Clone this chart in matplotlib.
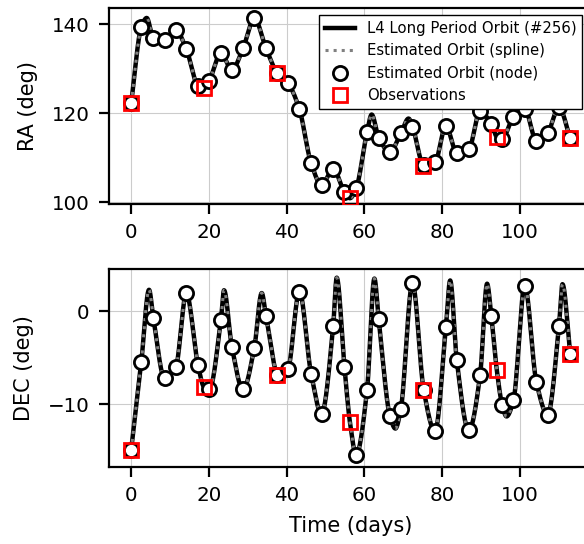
import numpy as np
import matplotlib
matplotlib.use('Agg')
from matplotlib import pyplot as plt

# estimated orbit nodes (days) and the sky coordinates at each node
node_t = [0.0, 2.6, 5.7, 8.6, 11.5, 14.2, 17.2, 20.1, 23.1, 25.9,
          28.8, 31.7, 34.7, 37.6, 40.4, 43.3, 46.3, 49.0, 52.0, 54.9,
          57.9, 60.7, 63.7, 66.6, 69.4, 72.4, 75.3, 78.2, 81.0, 83.8,
          86.9, 89.8, 92.7, 95.5, 98.4, 101.3, 104.3, 107.2, 110.1, 113.0]
node_ra = [122.3, 139.3, 137.0, 136.5, 138.6, 134.4, 126.1, 127.3, 133.5, 129.7,
           134.6, 141.3, 134.6, 129.0, 126.7, 120.9, 108.8, 103.9, 107.4, 102.3,
           103.1, 115.7, 114.5, 111.3, 115.5, 117.0, 108.3, 109.0, 117.1, 111.1,
           111.9, 120.4, 117.5, 114.3, 119.2, 120.9, 113.8, 115.6, 121.3, 114.4]
node_dec = [-14.9, -5.5, -0.7, -7.2, -6.0, 1.9, -5.8, -8.4, -0.9, -3.8,
            -8.4, -3.9, -0.5, -6.9, -6.25, 2.1, -6.7, -11.0, -1.55, -6.0,
            -15.4, -8.5, -0.8, -11.25, -10.5, 3.0, -8.5, -12.9, -1.7, -5.25,
            -12.8, -6.9, -0.55, -10.1, -9.55, 2.7, -7.65, -11.1, -1.6, -4.55]

# observations
obs_t = [0.0, 18.7, 37.5, 56.3, 75.2, 94.1, 113.0]
obs_ra = [122.2, 125.6, 129.1, 100.9, 108.2, 114.7, 114.4]
obs_dec = [-14.9, -8.1, -6.8, -11.9, -8.45, -6.3, -4.55]

# turning points of the reference orbit that fall between nodes
peak_ra_t = [4.0, 61.9, 71.4]
peak_ra = [141.4, 119.7, 118.8]
peak_dec_t = [4.6, 23.9, 33.6, 38.5, 52.9, 62.6, 68.0, 82.1, 91.6, 96.6, 111.0]
peak_dec = [2.3, 2.25, 1.95, -7.4, 3.6, 3.5, -12.6, 3.3, 2.95, -11.3, 2.9]


def pchip(x, y, xq):
    """shape preserving piecewise cubic through (x, y)"""
    x = np.asarray(x, float)
    y = np.asarray(y, float)
    h = np.diff(x)
    d = np.diff(y) / h
    m = np.zeros_like(y)
    for k in range(1, len(x) - 1):
        if d[k-1] * d[k] > 0:
            w1 = 2*h[k] + h[k-1]
            w2 = h[k] + 2*h[k-1]
            m[k] = (w1 + w2) / (w1/d[k-1] + w2/d[k])
    m[0] = d[0]
    m[-1] = d[-1]
    idx = np.clip(np.searchsorted(x, xq) - 1, 0, len(h) - 1)
    s = (xq - x[idx]) / h[idx]
    h00 = 2*s**3 - 3*s**2 + 1
    h10 = s**3 - 2*s**2 + s
    h01 = -2*s**3 + 3*s**2
    h11 = s**3 - s**2
    return (h00*y[idx] + h10*h[idx]*m[idx] + h01*y[idx+1]
            + h11*h[idx]*m[idx+1])


def orbit_curve(extra_t, extra_v, obs_v, node_v, tq):
    t = list(node_t) + list(extra_t)
    v = list(node_v) + list(extra_v)
    for ot, ov in zip(obs_t, obs_v):
        if min(abs(ot - nt) for nt in node_t) > 0.3:
            t.append(ot)
            v.append(ov)
    order = np.argsort(t)
    return pchip(np.array(t)[order], np.array(v)[order], tq)


tq = np.linspace(node_t[0], node_t[-1], 3000)
ra_curve = orbit_curve(peak_ra_t, peak_ra, obs_ra, node_ra, tq)
dec_curve = orbit_curve(peak_dec_t, peak_dec, obs_dec, node_dec, tq)

fig = plt.figure(figsize=(5.84, 5.44), dpi=100)
ax1 = fig.add_axes([0.187, 0.625, 0.827, 0.360])
ax2 = fig.add_axes([0.187, 0.142, 0.827, 0.363])

for ax, curve, nv, ov in [(ax1, ra_curve, node_ra, obs_ra),
                          (ax2, dec_curve, node_dec, obs_dec)]:
    ax.plot(tq, curve, color='black', lw=3.2, zorder=2,
            label='L4 Long Period Orbit (#256)')
    ax.plot(tq, curve, color='gray', lw=2.2, ls=':', zorder=3,
            label='Estimated Orbit (spline)')
    ax.plot(node_t, nv, 'o', ms=10.2, mfc='white', mec='black', mew=2.0,
            zorder=4, label='Estimated Orbit (node)')
    ax.plot(obs_t, ov, 's', ms=10.0, mfc='none', mec='red', mew=2.0,
            zorder=5, label='Observations')
    ax.set_xlim(-5.65, 118.65)
    ax.set_xticks([0, 20, 40, 60, 80, 100])
    ax.grid(True, color='#cccccc', lw=0.8)
    ax.set_axisbelow(True)
    ax.tick_params(labelsize=14.3, length=7, width=1.6, pad=7)
    for sp in ax.spines.values():
        sp.set_linewidth(1.6)

ax1.set_ylim(99.6, 143.6)
ax1.set_yticks([100, 120, 140])
ax2.set_ylim(-16.7, 4.5)
ax2.set_yticks([-10, 0])

ax1.set_ylabel('RA (deg)', fontsize=15, labelpad=10)
ax2.set_ylabel('DEC (deg)', fontsize=15, labelpad=10)
ax2.set_xlabel('Time (days)', fontsize=15, labelpad=8)

leg = ax1.legend(loc='upper right', bbox_to_anchor=(0.995, 1.003),
                 fontsize=10.75, fancybox=False, framealpha=1,
                 edgecolor='black')
leg.get_frame().set_linewidth(1.0)

fig.savefig('out.png', dpi=100)
